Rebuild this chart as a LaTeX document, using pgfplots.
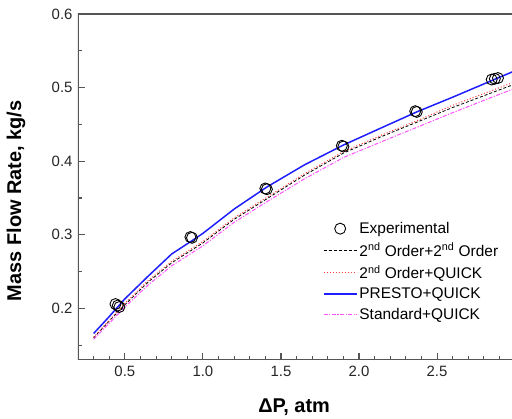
\documentclass[border=0pt]{standalone}
\usepackage{fontspec}
\setmainfont{Liberation Sans}
\usepackage{pgfplots}
\pgfplotsset{compat=1.18}
\definecolor{axgray}{RGB}{85,85,85}
\definecolor{presto}{RGB}{30,30,255}
\definecolor{quickred}{RGB}{255,60,60}
\definecolor{stdmag}{RGB}{255,80,255}

\begin{document}
\begin{tikzpicture}
\begin{axis}[
  scale only axis, width=434bp, height=346bp,
  xmin=0.2, xmax=2.98, ymin=0.13, ymax=0.6,
  axis line style={draw=none},
  xtick pos=bottom, ytick pos=left,
  major tick length=0pt,
  xtick={0.5,1.0,1.5,2.0,2.5},
  ytick={0.2,0.3,0.4,0.5,0.6},
  xticklabels={0.5,1.0,1.5,2.0,2.5},
  yticklabels={0.2,0.3,0.4,0.5,0.6},
  ticklabel style={font=\fontsize{15}{17}\selectfont, text=black!85},
  xticklabel style={yshift=-3bp},
  yticklabel style={xshift=-2bp},
  xlabel={\bfseries ΔP, atm},
  ylabel={\bfseries Mass Flow Rate, kg/s},
  label style={font=\fontsize{20}{22}\selectfont},
  xlabel style={at={(axis description cs:0.498,-0.136)}, anchor=center},
  ylabel style={at={(axis description cs:-0.143,0.46)}, anchor=center},
  legend image code/.code={\draw[mark repeat=2,mark phase=2,#1] plot coordinates {(0bp,0bp)(16.5bp,0bp)(33bp,0bp)};},
  legend style={at={(axis description cs:0.557,0.41)}, anchor=north west,
    draw=none, fill=none, font=\fontsize{15.5}{17}\selectfont,
    row sep=4bp, cells={anchor=west}},
  legend cell align=left,
]
% frame: left, bottom and top (right side is cut off in the original)
\draw[axgray, line width=1.2bp] (rel axis cs:1,1) -- (rel axis cs:0,1) -- (rel axis cs:0,0) -- (rel axis cs:1,0);
\addplot[only marks, mark=o, mark size=5.5bp, black, mark options={line width=0.9bp}] coordinates {
  (0.44,0.206)(0.455,0.204)(0.465,0.202)
  (0.92,0.297)(0.93,0.296)
  (1.40,0.363)(1.41,0.362)
  (1.89,0.421)(1.90,0.420)
  (2.36,0.468)(2.37,0.467)
  (2.85,0.511)(2.87,0.512)(2.89,0.513)
};
\addlegendentry{Experimental}
\addplot[black, line width=0.8bp, dash pattern=on 3bp off 2bp] coordinates {
  (0.30,0.160)(0.40,0.183)(0.50,0.205)(0.65,0.236)(0.80,0.262)(1.00,0.289)
  (1.20,0.321)(1.41,0.349)(1.65,0.381)(1.90,0.411)(2.15,0.434)(2.37,0.453)
  (2.60,0.473)(2.90,0.497)(3.00,0.505)
};
\addlegendentry{2\textsuperscript{nd} Order+2\textsuperscript{nd} Order}
\addplot[quickred, line width=1bp, dash pattern=on 1bp off 2bp] coordinates {
  (0.30,0.161)(0.40,0.184)(0.50,0.207)(0.65,0.238)(0.80,0.264)(1.00,0.291)
  (1.20,0.323)(1.41,0.351)(1.65,0.383)(1.90,0.413)(2.15,0.436)(2.37,0.455)
  (2.60,0.476)(2.90,0.500)(3.00,0.508)
};
\addlegendentry{2\textsuperscript{nd} Order+QUICK}
\addplot[presto, line width=1.5bp] coordinates {
  (0.30,0.166)(0.40,0.189)(0.50,0.213)(0.65,0.244)(0.80,0.274)(0.93,0.292)
  (1.00,0.302)(1.20,0.335)(1.41,0.365)(1.65,0.395)(1.90,0.422)(2.15,0.446)
  (2.37,0.467)(2.60,0.487)(2.90,0.514)(3.00,0.523)
};
\addlegendentry{PRESTO+QUICK}
\addplot[stdmag, line width=1bp, dash pattern=on 4bp off 1.5bp on 1.2bp off 1.5bp] coordinates {
  (0.30,0.158)(0.40,0.180)(0.50,0.202)(0.65,0.232)(0.80,0.258)(1.00,0.285)
  (1.20,0.317)(1.41,0.345)(1.65,0.376)(1.90,0.405)(2.15,0.427)(2.37,0.446)
  (2.60,0.466)(2.90,0.491)(3.00,0.499)
};
\addlegendentry{Standard+QUICK}
\end{axis}
% tick marks pointing inwards, placed after the axis (axis box corner at origin)
% x: 434bp / 2.78 units = 156.70pt per unit; y: 346bp / 0.47 units = 738.93pt per unit
\foreach \v in {0.5,1.0,1.5,2.0,2.5}
  \draw[axgray, line width=1.1bp] ({(\v-0.2)*156.70pt},0pt) -- ++(0pt,7bp);
\foreach \v in {0.3,0.4,0.6,0.7,0.8,0.9,1.1,1.2,1.3,1.4,1.6,1.7,1.8,1.9,2.1,2.2,2.3,2.4,2.6,2.7,2.8,2.9}
  \draw[axgray, line width=1.1bp] ({(\v-0.2)*156.70pt},0pt) -- ++(0pt,4bp);
\foreach \v in {0.2,0.3,0.4,0.5}
  \draw[axgray, line width=1.1bp] (0pt,{(\v-0.13)*738.93pt}) -- ++(7bp,0pt);
\foreach \v in {0.15,0.25,0.35,0.45,0.55}
  \draw[axgray, line width=1.1bp] (0pt,{(\v-0.13)*738.93pt}) -- ++(4bp,0pt);
\path (-78bp,-59bp) (434bp,360bp);
\end{tikzpicture}
\end{document}
